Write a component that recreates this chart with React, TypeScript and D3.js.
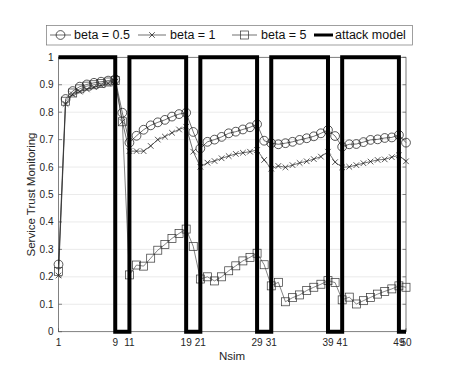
import React from 'react';
import * as d3 from 'd3';

// Simulation step index 1..50
const nsim = d3.range(1, 51);

const beta05 = [
  0.245, 0.848, 0.877, 0.893, 0.901, 0.907, 0.911, 0.915, 0.92, 0.798,
  0.689, 0.714, 0.736, 0.752, 0.763, 0.772, 0.784, 0.793, 0.798, 0.728,
  0.668, 0.692, 0.7, 0.71, 0.723, 0.729, 0.737, 0.745, 0.756, 0.696,
  0.687, 0.683, 0.687, 0.692, 0.699, 0.705, 0.712, 0.723, 0.735, 0.713,
  0.674, 0.683, 0.684, 0.691, 0.699, 0.701, 0.706, 0.708, 0.717, 0.689,
];

const beta1 = [
  0.205, 0.83, 0.865, 0.875, 0.883, 0.891, 0.898, 0.905, 0.911, 0.765,
  0.658, 0.658, 0.658, 0.677, 0.7, 0.711, 0.725, 0.737, 0.747, 0.656,
  0.601, 0.616, 0.622, 0.632, 0.64, 0.648, 0.652, 0.656, 0.662, 0.626,
  0.594, 0.604, 0.599, 0.607, 0.615, 0.621, 0.629, 0.638, 0.656, 0.618,
  0.599, 0.601, 0.607, 0.614, 0.62, 0.626, 0.628, 0.636, 0.643, 0.621,
];

const beta5 = [
  0.22, 0.84, 0.87, 0.885, 0.895, 0.9, 0.905, 0.91, 0.915, 0.765,
  0.207, 0.243, 0.239, 0.268, 0.297, 0.318, 0.34, 0.358, 0.374, 0.311,
  0.192, 0.2, 0.185, 0.2, 0.222, 0.24, 0.258, 0.271, 0.286, 0.244,
  0.167, 0.18, 0.109, 0.124, 0.134, 0.15, 0.162, 0.173, 0.186, 0.179,
  0.116, 0.126, 0.101, 0.113, 0.125, 0.137, 0.147, 0.156, 0.167, 0.162,
];

// square-wave attack model
const attackX = [1, 9, 9, 11, 11, 19, 19, 21, 21, 29, 29, 31, 31, 39, 39, 41, 41, 49, 49, 50];
const attackY = [1, 1, 0, 0, 1, 1, 0, 0, 1, 1, 0, 0, 1, 1, 0, 0, 1, 1, 0, 0];

const xTicks = [1, 9, 11, 19, 21, 29, 31, 39, 41, 49, 50];
const yTicks = [0, 0.1, 0.2, 0.3, 0.4, 0.5, 0.6, 0.7, 0.8, 0.9, 1];

const legendLabels = ['beta = 0.5', 'beta = 1', 'beta = 5', 'attack model'];

const FONT = '"Liberation Sans", Arial, Helvetica, sans-serif';

const Marker = ({ kind, x, y }) => {
  if (kind === 'circle') {
    return <circle cx={x} cy={y} r={4.4} fill="none" stroke="#111" strokeWidth={0.7} />;
  }
  if (kind === 'x') {
    const s = 2.8;
    return (
      <path
        d={`M${x - s},${y - s}L${x + s},${y + s}M${x - s},${y + s}L${x + s},${y - s}`}
        stroke="#111"
        strokeWidth={0.7}
      />
    );
  }
  return <rect x={x - 4} y={y - 4} width={8} height={8} fill="none" stroke="#333" strokeWidth={0.7} />;
};

export default function App() {
  const width = 449;
  const height = 368;
  const x = d3.scaleLinear().domain([1, 50]).range([58.5, 406]);
  const y = d3.scaleLinear().domain([0, 1]).range([331.7, 57.3]);

  const line = d3
    .line<number>()
    .x((d, i) => x(nsim[i]))
    .y((d) => y(d));

  const attackLine = d3
    .line<number>()
    .x((d, i) => x(attackX[i]))
    .y((d) => y(d));

  const series = [
    { data: beta05, marker: 'circle', stroke: '#111' },
    { data: beta1, marker: 'x', stroke: '#111' },
    { data: beta5, marker: 'square', stroke: '#333' },
  ];

  const [x0, x1] = x.range();
  const [y0, y1] = y.range();

  // legend layout (line start, line end, text start)
  const legendItems = [
    { l0: 50, l1: 71, tx: 74 },
    { l0: 138, l1: 166, tx: 170 },
    { l0: 232, l1: 257, tx: 261 },
    { l0: 314, l1: 333, tx: 335 },
  ];

  return (
    <svg
      width={width}
      height={height}
      style={{ position: 'absolute', left: 0, top: 0, background: '#fff' }}
      fontFamily={FONT}
    >
      <rect x={0} y={0} width={width} height={height} fill="#fff" />

      {/* grid */}
      {yTicks.map((t) => (
        <line key={'gy' + t} x1={x0} x2={x1} y1={y(t)} y2={y(t)} stroke="#e6e6e6" strokeWidth={0.8} />
      ))}
      {xTicks.map((t) => (
        <line key={'gx' + t} x1={x(t)} x2={x(t)} y1={y0} y2={y1} stroke="#e6e6e6" strokeWidth={0.8} />
      ))}

      {/* axes box */}
      <rect x={x0} y={y1} width={x1 - x0} height={y0 - y1} fill="none" stroke="#555" strokeWidth={0.7} />
      {yTicks.map((t) => (
        <g key={'ty' + t}>
          <line x1={x0} x2={x0 + 3.5} y1={y(t)} y2={y(t)} stroke="#555" strokeWidth={0.7} />
          <line x1={x1} x2={x1 - 3.5} y1={y(t)} y2={y(t)} stroke="#555" strokeWidth={0.7} />
          <text x={x0 - 5} y={y(t) + 3.5} fontSize={10} textAnchor="end" fill="#262626">
            {t}
          </text>
        </g>
      ))}
      {xTicks.map((t) => (
        <g key={'tx' + t}>
          <line x1={x(t)} x2={x(t)} y1={y0} y2={y0 - 3.5} stroke="#555" strokeWidth={0.7} />
          <text x={x(t)} y={y0 + 14} fontSize={10} textAnchor="middle" fill="#262626">
            {t}
          </text>
        </g>
      ))}

      {/* series */}
      {series.map((s, si) => (
        <g key={'s' + si}>
          <path d={line(s.data) || ''} fill="none" stroke={s.stroke} strokeWidth={0.6} />
          {s.data.map((v, i) => (
            <Marker key={i} kind={s.marker} x={x(nsim[i])} y={y(v)} />
          ))}
        </g>
      ))}

      <path d={attackLine(attackY) || ''} fill="none" stroke="#000" strokeWidth={4} strokeLinejoin="miter" />

      {/* axis labels */}
      <text x={232} y={360} fontSize={11.5} textAnchor="middle" fill="#262626">
        Nsim
      </text>
      <text
        transform={`translate(35,${(y0 + y1) / 2}) rotate(-90)`}
        fontSize={11.5}
        textAnchor="middle"
        fill="#262626"
      >
        Service Trust Monitoring
      </text>

      {/* legend */}
      <rect x={46.5} y={25.5} width={366} height={19.5} fill="#fff" stroke="#777" strokeWidth={0.7} />
      {legendLabels.map((lab, i) => {
        const it = legendItems[i];
        const cy = 35;
        return (
          <g key={lab}>
            {i < 3 ? (
              <>
                <line x1={it.l0} x2={it.l1} y1={cy} y2={cy} stroke="#111" strokeWidth={0.6} />
                <Marker kind={series[i].marker} x={(it.l0 + it.l1) / 2} y={cy} />
              </>
            ) : (
              <line x1={it.l0} x2={it.l1} y1={cy} y2={cy} stroke="#000" strokeWidth={3} />
            )}
            <text x={it.tx} y={cy + 4.3} fontSize={12.5} fill="#111">
              {lab}
            </text>
          </g>
        );
      })}
    </svg>
  );
}
